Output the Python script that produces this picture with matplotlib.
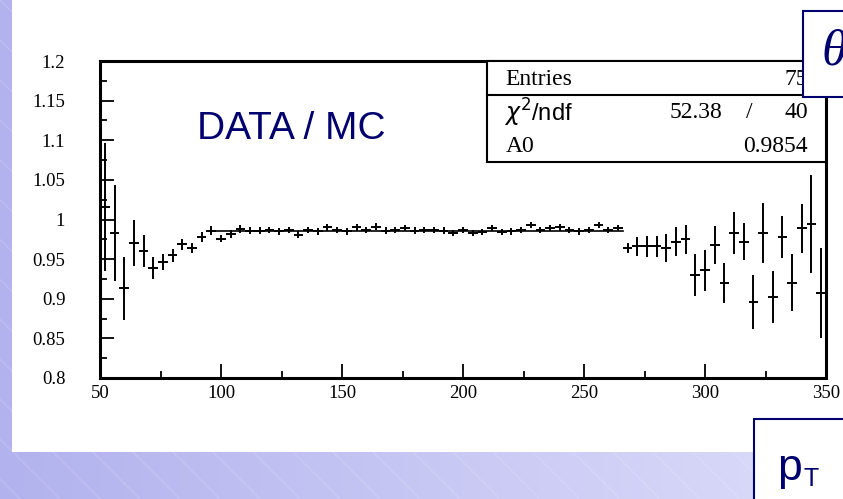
import numpy as np
import matplotlib.pyplot as plt
from matplotlib.patches import Rectangle

# --- ratio DATA/MC versus pT, 4 GeV bins between 50 and 350 ---
pt = [52, 56, 60, 64, 68, 72, 76, 80, 84, 88, 92, 96, 100, 104, 108,
      112, 116, 120, 124, 128, 132, 136, 140, 144, 148, 152, 156, 160,
      164, 168, 172, 176, 180, 184, 188, 192, 196, 200, 204, 208, 212,
      216, 220, 224, 228, 232, 236, 240, 244, 248, 252, 256, 260, 264,
      268, 272, 276, 280, 284, 288, 292, 296, 300, 304, 308, 312, 316,
      320, 324, 328, 332, 336, 340, 344, 348]
ratio = [1.016, 0.983, 0.913, 0.970, 0.960, 0.939, 0.946, 0.955, 0.969,
         0.964, 0.978, 0.986, 0.976, 0.982, 0.988,
         0.986, 0.986, 0.987, 0.985, 0.987, 0.981, 0.987, 0.985, 0.990,
         0.987, 0.985, 0.990, 0.987, 0.991, 0.986, 0.987, 0.989, 0.986,
         0.987, 0.987, 0.986, 0.983, 0.987, 0.983, 0.984, 0.989, 0.984,
         0.985, 0.987, 0.993, 0.987, 0.989, 0.990, 0.987, 0.985, 0.987,
         0.993, 0.987, 0.989,
         0.964, 0.966, 0.966, 0.966, 0.964, 0.972, 0.975, 0.930, 0.936,
         0.968, 0.920, 0.983, 0.972, 0.896, 0.983, 0.902, 0.978, 0.920,
         0.989, 0.994, 0.907]
err = [0.081, 0.061, 0.040, 0.029, 0.020, 0.014, 0.010, 0.008, 0.007,
       0.006, 0.006, 0.006, 0.005, 0.005, 0.005,
       0.004, 0.004, 0.004, 0.004, 0.004, 0.004, 0.004, 0.004, 0.004,
       0.004, 0.004, 0.004, 0.004, 0.004, 0.004, 0.004, 0.004, 0.004,
       0.004, 0.004, 0.004, 0.004, 0.004, 0.004, 0.004, 0.004, 0.004,
       0.004, 0.004, 0.004, 0.004, 0.004, 0.004, 0.004, 0.004, 0.004,
       0.004, 0.004, 0.004,
       0.006, 0.012, 0.013, 0.013, 0.018, 0.018, 0.018, 0.026, 0.026,
       0.024, 0.025, 0.026, 0.023, 0.034, 0.038, 0.033, 0.027, 0.036,
       0.031, 0.062, 0.057]
half_bin = 2.0

# constant fit
a0 = 0.9854
fit_range = [98, 266]
entries = "75"
chi2 = "52.38"
ndf = "40"

xticks = [50, 100, 150, 200, 250, 300, 350]
yticks = [0.8, 0.85, 0.9, 0.95, 1.0, 1.05, 1.1, 1.15, 1.2]
ylabels = ["0.8", "0.85", "0.9", "0.95", "1", "1.05", "1.1", "1.15", "1.2"]

navy = "#00006e"
W, H = 843, 499

fig = plt.figure(figsize=(W / 100, H / 100), dpi=100)

# slide background: lavender gradient with faint diagonal stripes
bg = fig.add_axes([0, 0, 1, 1], zorder=-10)
c0 = np.array([178, 178, 238]) / 255
c1 = np.array([220, 220, 250]) / 255
g = np.linspace(0, 1, 256)
img = c0[None, None, :] + (c1 - c0)[None, None, :] * g[None, :, None]
bg.imshow(img, extent=[0, W, 0, H], aspect="auto")
for x0 in range(-600, 900, 40):
    bg.plot([x0, x0 + 500], [H, 0], color="white", alpha=0.18, lw=0.8)
bg.add_patch(Rectangle((12, H - 452), W - 12, 452, facecolor="white",
                       edgecolor="none"))
bg.set_xlim(0, W)
bg.set_ylim(0, H)
bg.axis("off")

ax = fig.add_axes([100 / W, (H - 378) / H, 726 / W, 317 / H])
ax.errorbar(pt, ratio, yerr=err, xerr=half_bin, fmt="none", ecolor="black",
            elinewidth=1.4, capsize=0)
ax.plot(fit_range, [a0, a0], color="black", lw=1.2)

ax.set_xlim(50, 350)
ax.set_ylim(0.8, 1.2)
ax.set_xticks(xticks)
ax.set_xticks([75, 125, 175, 225, 275, 325], minor=True)
ax.set_yticks(yticks)
ax.set_yticklabels(ylabels)
ax.set_yticks([0.825, 0.875, 0.925, 0.975, 1.025, 1.075, 1.125, 1.175],
              minor=True)
ax.tick_params(which="both", direction="in", width=1.3, top=False,
               right=False, labelsize=13.5)
ax.tick_params(which="major", length=10)
ax.tick_params(which="minor", length=5)
ax.tick_params(axis="y", which="major", pad=25)
ax.tick_params(axis="x", which="major", pad=5)
for lab in ax.get_xticklabels() + ax.get_yticklabels():
    lab.set_family("Liberation Serif")
for s in ax.spines.values():
    s.set_linewidth(2.2)

ax.text(0.1336, 0.785, "DATA / MC", transform=ax.transAxes, fontsize=28,
        family="Liberation Sans", color=navy, va="center", ha="left")

# statistics box
bx0, by0 = 0.533, 0.681
ax.add_patch(Rectangle((bx0, by0), 1 - bx0, 1 - by0, transform=ax.transAxes,
                       facecolor="white", edgecolor="black", lw=1.5,
                       zorder=5, clip_on=False))
ax.plot([bx0, 1], [0.893, 0.893], transform=ax.transAxes, color="black",
        lw=1.5, zorder=6, clip_on=False)
sty = dict(transform=ax.transAxes, fontsize=17, va="center", zorder=7)
ax.text(0.559, 0.943, "Entries", family="Liberation Serif", ha="left", **sty)
ax.text(0.975, 0.943, entries, family="Liberation Serif", ha="right", **sty)
ax.text(0.557, 0.836, r"$\chi^2$/ndf", family="Liberation Sans", ha="left",
        **sty)
ax.text(0.857, 0.836, chi2, family="Liberation Serif", ha="right", **sty)
ax.text(0.895, 0.836, "/", family="Liberation Serif", ha="center", **sty)
ax.text(0.975, 0.836, ndf, family="Liberation Serif", ha="right", **sty)
ax.text(0.559, 0.729, "A0", family="Liberation Serif", ha="left", **sty)
ax.text(0.975, 0.729, f"{a0:.4f}", family="Liberation Serif", ha="right",
        **sty)

# variable labels on the slide
fig.patches.append(Rectangle((803 / W, 1 - 97 / H), (W - 803) / W + 0.01,
                             86 / H, transform=fig.transFigure,
                             facecolor="white", edgecolor=navy, lw=1.5,
                             zorder=3))
fig.text(821 / W, 1 - 52 / H, "θ", fontsize=37, family="Liberation Serif",
         style="italic", color=navy, va="center", ha="left", zorder=4)
fig.patches.append(Rectangle((754 / W, -0.01), (W - 754) / W + 0.01,
                             0.01 + (H - 419) / H, transform=fig.transFigure,
                             facecolor="white", edgecolor=navy, lw=1.5,
                             zorder=3))
fig.text(777 / W, 1 - 480 / H, "p", fontsize=32, family="Liberation Sans",
         color=navy, va="baseline", ha="left", zorder=4)
fig.text(804 / W, 1 - 486 / H, "T", fontsize=18, family="Liberation Sans",
         color=navy, va="baseline", ha="left", zorder=4)

fig.savefig("out.png", dpi=100)
